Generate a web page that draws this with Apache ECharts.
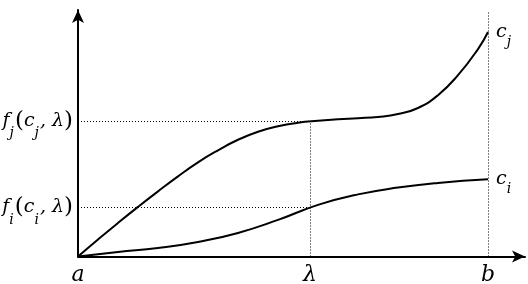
<!DOCTYPE html>
<html><head><meta charset="utf-8">
<script src="https://cdn.jsdelivr.net/npm/echarts@6/dist/echarts.min.js"></script>
<style>html,body{margin:0;padding:0;background:#fff}#c{width:528px;height:284px}</style>
</head><body><div id="c"></div>
<script>
// x positions (a = 0, lambda, b)
const xTicks = [0, 232, 410];
const xTickNames = ['a', 'λ', 'b'];
// curve c_j
const cjX = [0, 20, 40, 60, 80, 100, 120, 140, 160, 180, 200, 220, 240, 260, 280, 300, 320, 340, 360, 380, 400, 410];
const cjY = [0, 17, 33.5, 49.5, 65, 80, 94, 106, 116.5, 124.5, 130, 133.5, 135.5, 137, 138, 139.3, 142.2, 148.2, 161, 181, 207, 224];
// curve c_i
const ciX = [0, 40, 80, 120, 160, 200, 240, 280, 320, 360, 410];
const ciY = [0, 4.5, 8.5, 14.5, 23.5, 36.5, 51.5, 62, 68.8, 73.4, 77];
// reference levels f_i(c_i, λ), f_j(c_j, λ)
const fiLevel = 49;
const fjLevel = 135;

const F = "'DejaVu Serif', serif";
const rich = {
  i: {fontFamily: F, fontStyle: 'italic', fontSize: 19, color: '#000'},
  s: {fontFamily: F, fontStyle: 'italic', fontSize: 14, color: '#000', verticalAlign: 'bottom', padding: [0,1,-8,0]},
  p: {fontFamily: F, fontSize: 23, color: '#000'}
};
const dot = {type: [1, 2], width: 1, color: '#000'};
const chart = echarts.init(document.getElementById('c'));
chart.setOption({
  animation: false,
  grid: {left: 78, right: 3, top: 10, bottom: 27.5, outerBoundsMode: 'none', containLabel: false},
  xAxis: {
    type: 'value', min: 0, max: 447,
    splitLine: {show: false}, axisTick: {show: false},
    axisLine: {lineStyle: {color: '#000', width: 2}, symbol: ['none', 'arrow'], symbolSize: [9, 13]},
    axisLabel: {customValues: xTicks, margin: 8, fontFamily: F, fontStyle: 'italic', fontSize: 22, color: '#000',
      formatter: v => xTickNames[xTicks.indexOf(v)] || ''}
  },
  yAxis: {
    type: 'value', min: 0, max: 246,
    splitLine: {show: false}, axisTick: {show: false},
    axisLine: {onZero: false, lineStyle: {color: '#000', width: 2}, symbol: ['none', 'arrow'], symbolSize: [9, 13]},
    axisLabel: {customValues: [fiLevel, fjLevel], margin: 5, rich: rich,
      formatter: v => v === fjLevel ? '{i|f}{s|j}{p|(}{i|c}{s|j}{i|, λ}{p|)}' : '{i|f}{s|i}{p|(}{i|c}{s|i}{i|, λ}{p|)}'}
  },
  series: [
    {type: 'line', data: cjX.map((x, k) => [x, cjY[k]]), smooth: 0.5, symbol: 'none',
      lineStyle: {color: '#000', width: 2},
      endLabel: {show: true, distance: 8, rich: rich, formatter: '{i|c}{s|j}'}},
    {type: 'line', data: ciX.map((x, k) => [x, ciY[k]]), smooth: 0.5, symbol: 'none',
      lineStyle: {color: '#000', width: 2},
      endLabel: {show: true, distance: 8, rich: rich, formatter: '{i|c}{s|i}'},
      markLine: {silent: true, symbol: 'none', label: {show: false}, lineStyle: dot,
        data: [
          [{coord: [0, fjLevel]}, {coord: [xTicks[1], fjLevel]}],
          [{coord: [0, fiLevel]}, {coord: [xTicks[1], fiLevel]}],
          [{coord: [xTicks[1], 0]}, {coord: [xTicks[1], fjLevel]}],
          [{coord: [xTicks[2], 0]}, {coord: [xTicks[2], 244]}]
        ]}}
  ]
});
</script></body></html>
